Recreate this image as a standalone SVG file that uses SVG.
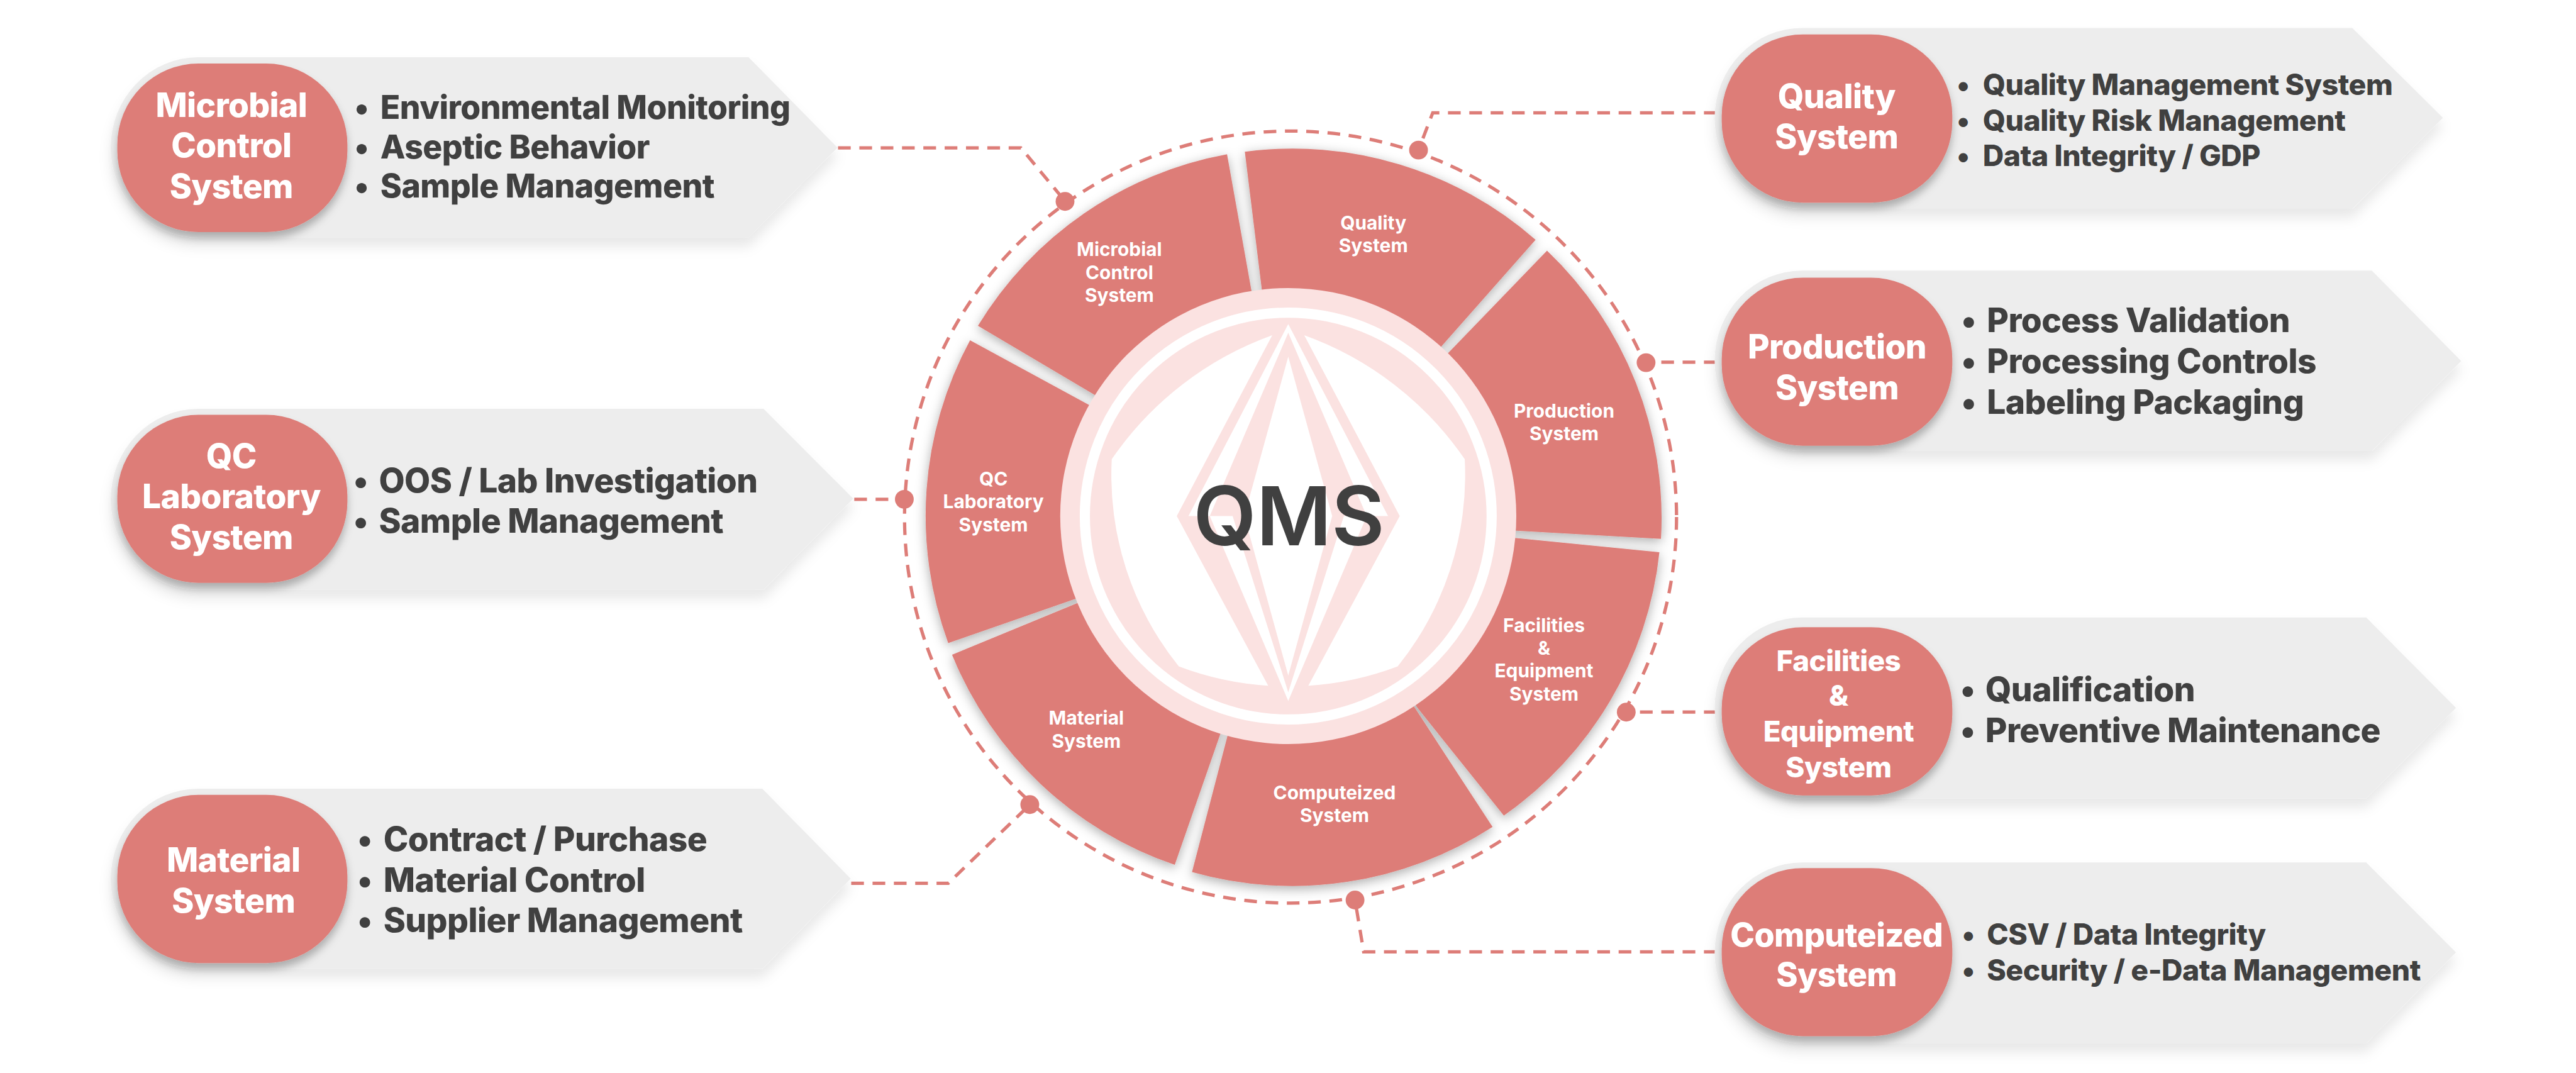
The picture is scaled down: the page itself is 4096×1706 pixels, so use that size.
<svg xmlns="http://www.w3.org/2000/svg" width="4096" height="1706" viewBox="0 0 4096 1706">
<style>
text{font-family:Inter,"Liberation Sans",sans-serif;font-weight:700}
.seg{fill:#DD7D78}
.box{fill:#EDEDED}
.pill{fill:#DD7D78}
.pt{fill:#fff;text-anchor:middle;font-weight:800;letter-spacing:-0.012em}
.wt{fill:#fff;text-anchor:middle;font-size:37px}
.it{fill:#404040;font-weight:800;letter-spacing:-0.0105em}
.s66{font-size:66px}
.s64{font-size:64px}
.s645{font-size:64.5px}
.s57{font-size:57.4px}
.s565{font-size:56.6px}
.dash{fill:none;stroke:#DD7D78;stroke-width:6.5;stroke-dasharray:25 17}
.dot{fill:#DD7D78}
.pale{fill:#FBE2E1}
.wh{fill:#fff}
</style>
<defs>
<filter id="wheelShadow" x="-10%" y="-10%" width="120%" height="120%"><feDropShadow dx="0" dy="6" stdDeviation="11" flood-color="#000" flood-opacity="0.32"/></filter>
<filter id="boxShadow" x="-10%" y="-20%" width="120%" height="150%"><feDropShadow dx="0" dy="18" stdDeviation="12" flood-color="#000" flood-opacity="0.09"/></filter>
<filter id="pillShadow" x="-20%" y="-20%" width="140%" height="150%"><feDropShadow dx="0" dy="12" stdDeviation="8" flood-color="#000" flood-opacity="0.27"/></filter>
</defs>
<rect width="4096" height="1706" fill="#fff"/>
<g transform="scale(0.80757)">
<g id="wheel" filter="url(#wheelShadow)">
<g id="seg-quality"><path class="seg" d="M2451,298.6A727,727 0 0 1 3023.5,472L2833.7,687L2537,1016L2484.7,572Z"/></g>
<g id="seg-production"><path class="seg" d="M3046,493.5A727,727 0 0 1 3270.4,1060.8L2979.6,1044.5L2537,1016L2852,694.5Z"/></g>
<g id="seg-facilities"><path class="seg" d="M3267.3,1087.3A727,727 0 0 1 2961,1605.7L2790.8,1393.5L2537,1016L2979.6,1058.8Z"/></g>
<g id="seg-computerized"><path class="seg" d="M2938.8,1628A727,727 0 0 1 2347,1717L2418,1444.5L2537,1016L2785.7,1393.5Z"/></g>
<g id="seg-material"><path class="seg" d="M2313,1702.7A727,727 0 0 1 1874.5,1289L2117,1189L2537,1016L2403,1444.5Z"/></g>
<g id="seg-qc"><path class="seg" d="M1867,1266A727,727 0 0 1 1910,670L2143,796.5L2537,1016L2117,1179Z"/></g>
<g id="seg-microbial"><path class="seg" d="M1925.5,641.4A727,727 0 0 1 2416,303.7L2464,572L2537,1016L2153,776Z"/></g>
</g>
<g id="wheel-labels">
<text class="wt"><tspan x="2704" y="451.6">Quality</tspan><tspan x="2704" y="496.5">System</tspan></text>
<text class="wt"><tspan x="3079.6" y="822">Production</tspan><tspan x="3079.6" y="867">System</tspan></text>
<text class="wt"><tspan x="3040" y="1245">Facilities</tspan><tspan x="3040" y="1289.5">&amp;</tspan><tspan x="3040" y="1334">Equipment</tspan><tspan x="3040" y="1379">System</tspan></text>
<text class="wt"><tspan x="2627.6" y="1574">Computeized</tspan><tspan x="2627.6" y="1619">System</tspan></text>
<text class="wt"><tspan x="2139" y="1427">Material</tspan><tspan x="2139" y="1472">System</tspan></text>
<text class="wt"><tspan x="1956" y="955.7">QC</tspan><tspan x="1956" y="1000.6">Laboratory</tspan><tspan x="1956" y="1046.5">System</tspan></text>
<text class="wt"><tspan x="2204" y="503.7">Microbial</tspan><tspan x="2204" y="549.6">Control</tspan><tspan x="2204" y="594.5">System</tspan></text>
</g>
<g id="qms-center">
<circle class="pale" cx="2536.5" cy="1016" r="449"/>
<circle cx="2536.5" cy="1016" r="400.5" fill="none" stroke="#fff" stroke-width="20"/>
<path class="wh" d="M2505,660L2317,1016L2497,1350A600,600 0 0 1 2321,1312A600,600 0 0 1 2189,904A650,650 0 0 1 2505,660Z"/>
<path class="wh" d="M2568,660L2756,1016L2576,1350A600,600 0 0 0 2752,1312A600,600 0 0 0 2884,904A650,650 0 0 0 2568,660Z"/>
<path class="wh" d="M2536.5,638L2340,1016L2382,1016L2536.5,655L2691,1016L2733,1016Z"/>
<path class="wh" d="M2382,1016L2427,1016L2536.5,1363L2646,1016L2691,1016L2536.5,1380Z"/>
<path class="wh" d="M2536.5,702L2450,1016L2536.5,1330L2623,1016Z"/>
<text x="2538" y="1073.3" fill="#404040" text-anchor="middle" style="font-size:160.5px;font-weight:600">QMS</text>
</g>
<g id="connectors">
<circle class="dash" cx="2541" cy="1018" r="760"/>
<path class="dash" d="M1650,291L2010,291L2097,396"/>
<path class="dash" d="M1682,983L1781,983"/>
<path class="dash" d="M1676,1739L1867,1739L2028,1584"/>
<path class="dash" d="M3380,222L2821,222L2793,295"/>
<path class="dash" d="M3380,713L3241,713"/>
<path class="dash" d="M3380,1402L3202,1402"/>
<path class="dash" d="M3380,1874L2685,1874L2668,1772"/>
<circle class="dot" cx="2097" cy="396.5" r="18.5"/>
<circle class="dot" cx="2793" cy="295.5" r="18.5"/>
<circle class="dot" cx="3241" cy="714" r="18.5"/>
<circle class="dot" cx="3202" cy="1402" r="18.5"/>
<circle class="dot" cx="2668" cy="1772" r="18.5"/>
<circle class="dot" cx="2027.6" cy="1584" r="18.5"/>
<circle class="dot" cx="1780.6" cy="983" r="18.5"/>
</g>
<g id="node-microbial">
<path class="box" filter="url(#boxShadow)" d="M390,112.7L1474,112.7L1649,290.7L1474,467.7L390,467.7A172,177.5 0 0 1 390,112.7Z"/>
<rect class="pill" filter="url(#pillShadow)" x="231" y="125" width="453" height="332" rx="160" ry="160"/>
<text class="pt s66"><tspan x="455.5" y="230">Microbial</tspan><tspan x="455.5" y="310">Control</tspan><tspan x="455.5" y="390">System</tspan></text>
<text class="it s64"><tspan x="698" y="234">•</tspan><tspan x="749" y="234">Environmental Monitoring</tspan><tspan x="698" y="311.7">•</tspan><tspan x="749" y="311.7">Aseptic Behavior</tspan><tspan x="698" y="389.3">•</tspan><tspan x="749" y="389.3">Sample Management</tspan></text>
</g>
<g id="node-qc">
<path class="box" filter="url(#boxShadow)" d="M390,805L1503.5,805L1680,981.7L1503.5,1161L390,1161A172,178 0 0 1 390,805Z"/>
<rect class="pill" filter="url(#pillShadow)" x="231" y="816.7" width="453" height="331" rx="160" ry="160"/>
<text class="pt s66"><tspan x="455.5" y="921.7">QC</tspan><tspan x="455.5" y="1001">Laboratory</tspan><tspan x="455.5" y="1081">System</tspan></text>
<text class="it s66"><tspan x="696" y="969">•</tspan><tspan x="746" y="969">OOS / Lab Investigation</tspan><tspan x="696" y="1048.7">•</tspan><tspan x="746" y="1048.7">Sample Management</tspan></text>
</g>
<g id="node-material">
<path class="box" filter="url(#boxShadow)" d="M390,1552.7L1501,1552.7L1675,1730L1501,1907.7L390,1907.7A172,177.5 0 0 1 390,1552.7Z"/>
<rect class="pill" filter="url(#pillShadow)" x="231" y="1565" width="453" height="331" rx="160" ry="160"/>
<text class="pt s66"><tspan x="459.6" y="1716.7">Material</tspan><tspan x="459.6" y="1796.7">System</tspan></text>
<text class="it s66"><tspan x="704" y="1675.7">•</tspan><tspan x="755" y="1675.7">Contract / Purchase</tspan><tspan x="704" y="1755.7">•</tspan><tspan x="755" y="1755.7">Material Control</tspan><tspan x="704" y="1835.7">•</tspan><tspan x="755" y="1835.7">Supplier Management</tspan></text>
</g>
<g id="node-quality">
<path class="box" filter="url(#boxShadow)" d="M3548,55L4631.6,55L4810,232L4631.6,411L3548,411A172,178 0 0 1 3548,55Z"/>
<rect class="pill" filter="url(#pillShadow)" x="3390" y="67.7" width="454" height="331.3" rx="160" ry="160"/>
<text class="pt s66"><tspan x="3616" y="212.7">Quality</tspan><tspan x="3616" y="292.7">System</tspan></text>
<text class="it s57"><tspan x="3853" y="187.3">•</tspan><tspan x="3904" y="187.3">Quality Management System</tspan><tspan x="3853" y="257.3">•</tspan><tspan x="3904" y="257.3">Quality Risk Management</tspan><tspan x="3853" y="327.3">•</tspan><tspan x="3904" y="327.3">Data Integrity / GDP</tspan></text>
</g>
<g id="node-production">
<path class="box" filter="url(#boxShadow)" d="M3548,532.7L4670,532.7L4846,710.7L4670,887.7L3548,887.7A172,177.5 0 0 1 3548,532.7Z"/>
<rect class="pill" filter="url(#pillShadow)" x="3390" y="546.7" width="454" height="331" rx="160" ry="160"/>
<text class="pt s66"><tspan x="3617" y="706">Production</tspan><tspan x="3617" y="786">System</tspan></text>
<text class="it s66"><tspan x="3862" y="654.3">•</tspan><tspan x="3912" y="654.3">Process Validation</tspan><tspan x="3862" y="734.3">•</tspan><tspan x="3912" y="734.3">Processing Controls</tspan><tspan x="3862" y="814.3">•</tspan><tspan x="3912" y="814.3">Labeling Packaging</tspan></text>
</g>
<g id="node-facilities">
<path class="box" filter="url(#boxShadow)" d="M3548,1215.8L4659,1215.8L4835.7,1393.8L4659,1572L3548,1572A172,178 0 0 1 3548,1215.8Z"/>
<rect class="pill" filter="url(#pillShadow)" x="3390" y="1234.8" width="454" height="331.2" rx="160" ry="160"/>
<text class="pt s565"><tspan x="3620" y="1321">Facilities</tspan><tspan x="3620" y="1389.5">&amp;</tspan><tspan x="3620" y="1460">Equipment</tspan><tspan x="3620" y="1530">System</tspan></text>
<text class="it s66"><tspan x="3860" y="1381">•</tspan><tspan x="3909" y="1381">Qualification</tspan><tspan x="3860" y="1461">•</tspan><tspan x="3909" y="1461">Preventive Maintenance</tspan></text>
</g>
<g id="node-computerized">
<path class="box" filter="url(#boxShadow)" d="M3548,1698L4659,1698L4835.7,1875L4659,2054L3548,2054A172,178 0 0 1 3548,1698Z"/>
<rect class="pill" filter="url(#pillShadow)" x="3390" y="1709" width="454" height="331" rx="160" ry="160"/>
<text class="pt s645"><tspan x="3616" y="1863">Computeized</tspan><tspan x="3616" y="1942">System</tspan></text>
<text class="it s57"><tspan x="3863" y="1860">•</tspan><tspan x="3912" y="1860">CSV / Data Integrity</tspan><tspan x="3863" y="1930.5">•</tspan><tspan x="3912" y="1930.5">Security / e-Data Management</tspan></text>
</g>
</g>
</svg>
